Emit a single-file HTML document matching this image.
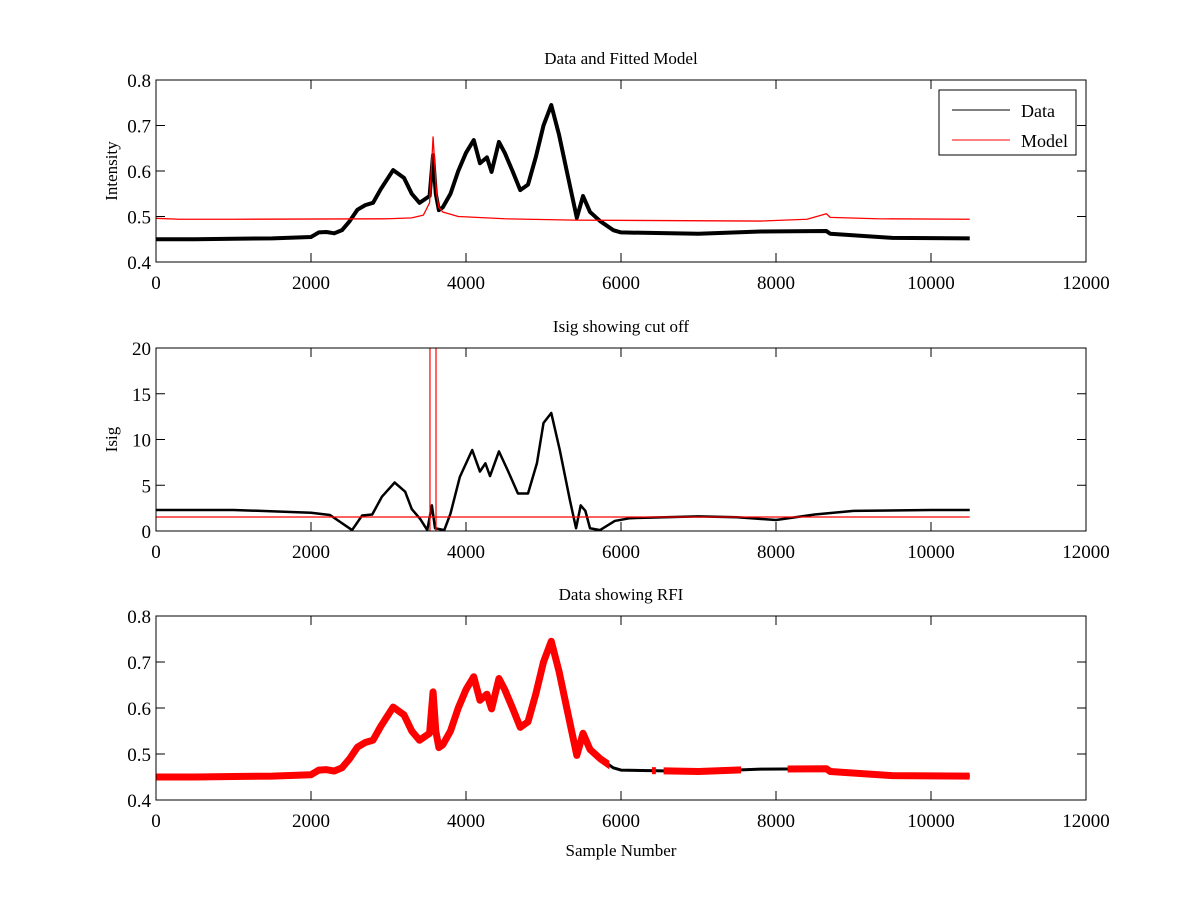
<!DOCTYPE html>
<html><head><meta charset="utf-8"><style>
body{margin:0;background:#fff}
svg text{font-family:"Liberation Serif",serif;fill:#000}
</style></head><body>
<svg id="c" width="1200" height="900" xmlns="http://www.w3.org/2000/svg"></svg>
<script>
const xTicks=[0,2000,4000,6000,8000,10000,12000];
const intTicks=[0.4,0.5,0.6,0.7,0.8];
const isigTicks=[0,5,10,15,20];
const sampleIdx=[0,500,1000,1500,2000,2100,2200,2300,2400,2500,2600,2700,2800,2900,3060,3200,3300,3400,3530,3575,3610,3650,3700,3800,3900,4000,4100,4180,4270,4330,4425,4500,4600,4700,4800,4900,5000,5100,5200,5300,5430,5510,5600,5730,5900,6000,7000,7800,8650,8700,9500,10500];
const dataVals=[0.45,0.45,0.451,0.452,0.455,0.465,0.466,0.463,0.47,0.49,0.515,0.525,0.53,0.56,0.602,0.585,0.55,0.53,0.545,0.635,0.55,0.514,0.52,0.55,0.6,0.64,0.668,0.617,0.63,0.598,0.664,0.64,0.6,0.558,0.57,0.63,0.7,0.745,0.68,0.6,0.497,0.545,0.51,0.49,0.47,0.465,0.462,0.467,0.468,0.462,0.453,0.452];
const modelIdx=[0,300,1000,3000,3300,3450,3530,3575,3620,3650,3700,3900,4500,5400,7800,8400,8650,8700,9300,10500];
const modelVals=[0.496,0.494,0.494,0.495,0.497,0.503,0.53,0.675,0.55,0.52,0.51,0.5,0.495,0.492,0.49,0.494,0.506,0.498,0.495,0.494];
const isigIdx=[0,1000,2000,2245,2530,2660,2790,2915,3080,3215,3300,3410,3500,3560,3600,3720,3800,3920,4080,4180,4250,4310,4425,4540,4670,4800,4915,5000,5100,5210,5340,5420,5480,5540,5600,5730,5920,6115,7000,7500,8000,8500,9000,10000,10500];
const isigVals=[2.3,2.3,2.0,1.75,0.1,1.7,1.8,3.75,5.3,4.3,2.4,1.3,0.1,2.8,0.3,0.1,1.9,5.9,8.85,6.5,7.4,6.0,8.7,6.6,4.1,4.1,7.4,11.8,12.9,8.85,3.4,0.3,2.8,2.2,0.3,0.1,1.1,1.4,1.6,1.5,1.2,1.8,2.2,2.3,2.3];
const isigCut=1.53;
const cutLines=[3535,3613];
const goodRanges=[[5850,6400],[6450,6550],[7550,8150]];

const svg=document.getElementById('c');const NS='http://www.w3.org/2000/svg';
function mk(t,a,p){const e=document.createElementNS(NS,t);for(const k in a)e.setAttribute(k,a[k]);(p||svg).appendChild(e);return e;}
const X0=156,X1=1086;
const sx=v=>X0+(v-0)/12000*(X1-X0);
function axes(name,top,bot,ymin,ymax,yt,title,ylab,xlab){
 const g=mk('g',{});
 const sy=v=>bot-(v-ymin)/(ymax-ymin)*(bot-top);
 mk('rect',{x:X0,y:top,width:X1-X0,height:bot-top,fill:'#fff',stroke:'none'},g);
 return {g,sy,finish(){
  mk('rect',{x:X0,y:top,width:X1-X0,height:bot-top,fill:'none',stroke:'#000','stroke-width':1},g);
  xTicks.forEach(t=>{const x=sx(t);mk('line',{x1:x,x2:x,y1:bot,y2:bot-9,stroke:'#000'},g);mk('line',{x1:x,x2:x,y1:top,y2:top+9,stroke:'#000'},g);
   const tx=mk('text',{x:x,y:bot+27,'text-anchor':'middle','font-size':19},g);tx.textContent=t;});
  yt.forEach(t=>{const y=sy(t);mk('line',{x1:X0,x2:X0+9,y1:y,y2:y,stroke:'#000'},g);mk('line',{x1:X1,x2:X1-9,y1:y,y2:y,stroke:'#000'},g);
   const tx=mk('text',{x:X0-5,y:y+7,'text-anchor':'end','font-size':19},g);tx.textContent=String(t);});
  const tt=mk('text',{x:(X0+X1)/2,y:top-16,'text-anchor':'middle','font-size':17},g);tt.textContent=title;
  const yl=mk('text',{x:0,y:0,'text-anchor':'middle','font-size':17,transform:`translate(117,${(top+bot)/2}) rotate(-90)`},g);yl.textContent=ylab;
  if(xlab){const xl=mk('text',{x:(X0+X1)/2,y:bot+56,'text-anchor':'middle','font-size':17},g);xl.textContent=xlab;}
 }};
}
function line(g,xs,ys,sy,col,w,name){const p=mk('polyline',{points:xs.map((x,i)=>sx(x)+','+sy(ys[i])).join(' '),fill:'none',stroke:col,'stroke-width':w,'stroke-linejoin':'round'},g);return p;}

// Top
const a1=axes('intensity-plot',80,262,0.4,0.8,intTicks,'Data and Fitted Model','Intensity');
line(a1.g,sampleIdx,dataVals,a1.sy,'#000',4,'data-line');
line(a1.g,modelIdx,modelVals,a1.sy,'#f00',1.3,'model-line');
a1.finish();
const lg=mk('g',{});
mk('rect',{x:939,y:90,width:137,height:65,fill:'#fff',stroke:'#000'},lg);
mk('line',{x1:952,x2:1010,y1:110,y2:110,stroke:'#000'},lg);
mk('line',{x1:952,x2:1010,y1:140,y2:140,stroke:'#f00'},lg);
let t=mk('text',{x:1021,y:117,'font-size':18},lg);t.textContent='Data';
t=mk('text',{x:1021,y:147,'font-size':18},lg);t.textContent='Model';

// Middle
const a2=axes('isig-plot',348,531,0,20,isigTicks,'Isig showing cut off','Isig');
line(a2.g,isigIdx,isigVals,a2.sy,'#000',2.5,'isig-line');
line(a2.g,[0,10500],[isigCut,isigCut],a2.sy,'#f00',1.2,'cutoff-line');
cutLines.forEach(c=>line(a2.g,[c,c],[0,20],a2.sy,'#f00',1.2,'cut-marker'));
a2.finish();

// Bottom
const a3=axes('rfi-plot',616,800,0.4,0.8,intTicks,'Data showing RFI','','Sample Number');
line(a3.g,sampleIdx,dataVals,a3.sy,'#000',3,'data-line');
const cp=mk('clipPath',{id:'rfi'});
let prev=0;
goodRanges.concat([[10500,10500]]).forEach(r=>{mk('rect',{x:sx(prev),y:600,width:sx(r[0])-sx(prev),height:220},cp);prev=r[1];});
const rl=line(a3.g,sampleIdx,dataVals,a3.sy,'#f00',7,'rfi-line');rl.setAttribute('clip-path','url(#rfi)');
a3.finish();
</script>
</body></html>
